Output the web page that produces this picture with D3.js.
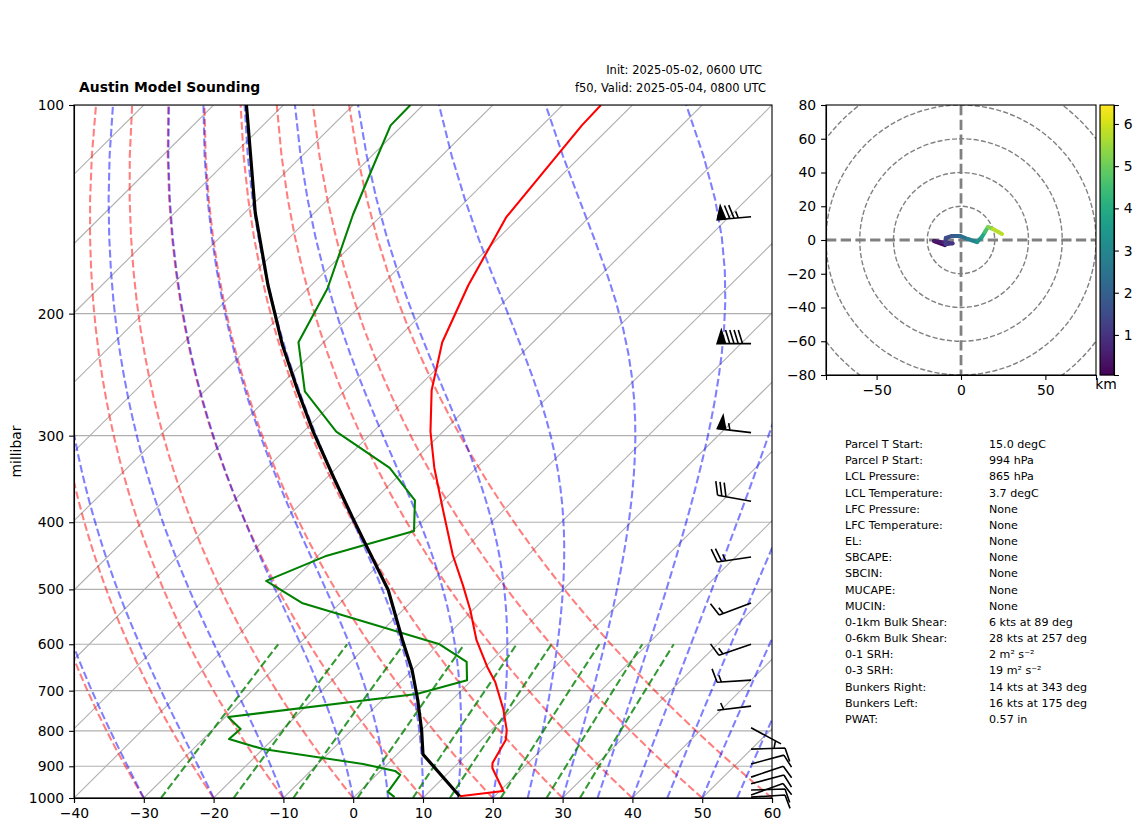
<!DOCTYPE html>
<html>
<head>
<meta charset="utf-8">
<script src="https://cdn.jsdelivr.net/npm/d3@7"></script>
<style>
  body { margin: 0; background: #fff; }
  text { font-family: "DejaVu Sans", sans-serif; fill: #000; }
  .domain { stroke-width: 1.1px; }
</style>
</head>
<body>
<svg id="chart" width="1142" height="832"></svg>
<script>
// sounding, pressure in hPa, temps in degC
const tempP = [994, 977, 905, 890, 825, 798, 746, 680, 647, 592, 535, 493, 446, 384, 334, 296, 258, 220, 182, 145, 107, 100];
const tempT = [15.0, 20.5, 15.6, 14.9, 13.5, 12.2, 8.8, 3.6, 0.3, -5.1, -10.4, -15.0, -20.8, -28.7, -36.0, -41.8, -47.6, -53.0, -57.5, -61.9, -64.3, -64.5];
const dewP = [997, 980, 926, 914, 893, 850, 822, 795, 764, 708, 676, 636, 600, 523, 486, 448, 412, 372, 334, 296, 259, 220, 184, 144, 124, 107, 100];
const dewT = [5.8, 4.1, 3.4, 2.1, -3.5, -20.0, -26.3, -26.1, -29.6, -5.9, -0.7, -3.4, -9.8, -35.5, -43.8, -38.9, -29.8, -34.1, -42.4, -55.3, -65.6, -73.6, -77.2, -84.2, -88.0, -91.7, -91.8];
const parcelP = [994, 865, 798, 722, 654, 592, 501, 436, 393, 345, 296, 258, 222, 182, 143, 105, 100];
const parcelT = [15.0, 3.7, 0.0, -4.9, -10.0, -15.7, -25.0, -34.0, -40.7, -49.0, -58.6, -66.8, -75.5, -86.2, -98.5, -113.0, -115.3];

// wind barbs, knots
const barbP = [145, 221, 297, 373, 449, 523, 600, 676, 737, 792, 850, 893, 933, 954, 974, 990, 997];
const barbU = [74.8, 90, 54.6, 29.5, 24.7, 14.1, 14.2, 15, 4.9, -4.4, -10, -9.7, -9.5, -9.7, -10, -9.4, -10];
const barbV = [6.6, 0, -6.5, -5.3, 3.7, 5.3, 4.9, 0.9, 0.6, 2.35, -0.3, -2.6, -3.2, -2.6, -0.3, -3.4, -0.6];

// hodograph
const hodoU = [-9.5, -16, -10, -5, -9, -9, -5.3, -0.6, 4, 9.5, 12.4, 14.2, 16, 19, 24.3];
const hodoV = [-3, -0.6, -1.5, -2, -2.5, 1.2, 2.4, 2.4, 0.6, -1.2, 1.8, 4.7, 7.7, 6.5, 3.6];
const hodoZ = [0.05, 0.3, 0.6, 0.9, 1.1, 1.3, 1.7, 2.1, 2.6, 3.1, 3.6, 4.2, 5.0, 5.5, 6.0];
const hodoRings = [20, 40, 60, 80, 100];
const hodoXTicks = [-50, 0, 50];
const hodoYTicks = [-80, -60, -40, -20, 0, 20, 40, 60, 80];
const cbarTicks = [1, 2, 3, 4, 5, 6];

const pTicks = [100, 200, 300, 400, 500, 600, 700, 800, 900, 1000];
const tTicks = d3.range(-40, 61, 10);
const isotherms = d3.range(-130, 61, 10);
const dryStart = d3.range(-40, 61, 10);
const moistStart = [-40, -30, -20, -10, 0, 5, 10, 15, 20, 25, 30, 35, 40, 45, 50, 55, 60];
const mixRatios = [0.0004, 0.001, 0.002, 0.004, 0.007, 0.01, 0.016, 0.024, 0.032];

const tableLabels = ["Parcel T Start:", "Parcel P Start:", "LCL Pressure:", "LCL Temperature:", "LFC Pressure:", "LFC Temperature:", "EL:", "SBCAPE:", "SBCIN:", "MUCAPE:", "MUCIN:", "0-1km Bulk Shear:", "0-6km Bulk Shear:", "0-1 SRH:", "0-3 SRH:", "Bunkers Right:", "Bunkers Left:", "PWAT:"];
const tableValues = ["15.0 degC", "994 hPa", "865 hPa", "3.7 degC", "None", "None", "None", "None", "None", "None", "None", "6 kts at 89 deg", "28 kts at 257 deg", "2 m² s⁻²", "19 m² s⁻²", "14 kts at 343 deg", "16 kts at 175 deg", "0.57 in"];

const svg = d3.select("#chart");
const plotL = 74, plotR = 772, plotT = 105, plotB = 798;
const x = d3.scaleLinear().domain([-40, 60]).range([plotL, plotR]);
const y = d3.scaleLog().domain([1000, 100]).range([plotB, plotT]);
const skew = p => (plotB - y(p)) * (plotR - plotL) / (plotB - plotT);   // 45 deg in axes space

const skewLine = d3.line().x(d => x(d[0]) + skew(d[1])).y(d => y(d[1]));

svg.append("clipPath").attr("id", "mainClip").append("rect")
    .attr("x", plotL).attr("y", plotT).attr("width", plotR - plotL).attr("height", plotB - plotT);

const main = svg.append("g").attr("clip-path", "url(#mainClip)");

// gridlines
main.selectAll(".iso").data(isotherms).enter().append("path")
    .attr("d", t => skewLine([[t, 1000], [t, 100]]))
    .attr("fill", "none").attr("stroke", "#b0b0b0").attr("stroke-width", 1.1);
main.selectAll(".pgrid").data(pTicks).enter().append("line")
    .attr("x1", plotL).attr("x2", plotR).attr("y1", d => y(d)).attr("y2", d => y(d))
    .attr("stroke", "#b0b0b0").attr("stroke-width", 1.1);

// background thermodynamic curves
const pLevels = d3.range(0, 50).map(i => 1000 - i * 900 / 49);

const dryCurve = t0 => pLevels.map(p => [(t0 + 273.15) * Math.pow(p / 1000, 0.2857) - 273.15, p]);

function moistSlope(T, p) {
    const es = 6.112 * Math.exp(17.67 * (T - 273.15) / (T - 29.65));
    const rs = 0.622 * es / (p - es);
    return (287 * T + 2.501e6 * rs) / (1005 + 2.501e6 * 2.501e6 * rs * 0.622 / (287 * T * T)) / p;
}
function moistCurve(t0) {
    let T = t0 + 273.15;
    const out = [[t0, 1000]];
    for (let i = 1; i < pLevels.length; i++) {
        const steps = 10, dp = (pLevels[i] - pLevels[i - 1]) / steps;
        let p = pLevels[i - 1];
        for (let s = 0; s < steps; s++) {
            const k1 = moistSlope(T, p), k2 = moistSlope(T + dp * k1 / 2, p + dp / 2);
            const k3 = moistSlope(T + dp * k2 / 2, p + dp / 2), k4 = moistSlope(T + dp * k3, p + dp);
            T += dp * (k1 + 2 * k2 + 2 * k3 + k4) / 6;
            p += dp;
        }
        out.push([T - 273.15, pLevels[i]]);
    }
    return out;
}
function mixCurve(w) {
    return d3.range(0, 21).map(i => {
        const p = 1000 - i * 20;
        const val = Math.log(p * w / (0.622 + w) / 6.112);
        return [243.5 * val / (17.67 - val), p];
    });
}

main.selectAll(".dry").data(dryStart).enter().append("path")
    .attr("d", t => skewLine(dryCurve(t)))
    .attr("fill", "none").attr("stroke", "red").attr("stroke-opacity", 0.5)
    .attr("stroke-width", 2.08).attr("stroke-dasharray", "7.7,3.3");
main.selectAll(".moist").data(moistStart).enter().append("path")
    .attr("d", t => skewLine(moistCurve(t)))
    .attr("fill", "none").attr("stroke", "blue").attr("stroke-opacity", 0.5)
    .attr("stroke-width", 2.08).attr("stroke-dasharray", "7.7,3.3");
main.selectAll(".mix").data(mixRatios).enter().append("path")
    .attr("d", w => skewLine(mixCurve(w)))
    .attr("fill", "none").attr("stroke", "green").attr("stroke-opacity", 0.8)
    .attr("stroke-width", 2.08).attr("stroke-dasharray", "7.7,3.3");

// sounding traces
function trace(ts, ps, color, w) {
    main.append("path").datum(ts.map((t, i) => [t, ps[i]]))
        .attr("d", skewLine).attr("fill", "none")
        .attr("stroke", color).attr("stroke-width", w).attr("stroke-linejoin", "round");
}
trace(tempT, tempP, "red", 2.08);
trace(dewT, dewP, "green", 2.08);
trace(parcelT, parcelP, "black", 3.2);

// frame + axes
svg.append("rect").attr("x", plotL).attr("y", plotT).attr("width", plotR - plotL).attr("height", plotB - plotT)
    .attr("fill", "none").attr("stroke", "#000").attr("stroke-width", 1.1);

function styleAxis(g) {
    g.selectAll("text").style("font-size", "13.9px");
    g.selectAll("line").attr("stroke-width", 1.1);
    g.select(".domain").attr("stroke-width", 1.1);
}
svg.append("g").attr("transform", `translate(0,${plotB})`)
    .call(d3.axisBottom(x).tickValues(tTicks).tickSize(4.9).tickPadding(4.9).tickFormat(d3.format("d")))
    .call(styleAxis);
svg.append("g").attr("transform", `translate(${plotL},0)`)
    .call(d3.axisLeft(y).tickValues(pTicks).tickSize(4.9).tickPadding(4.9).tickFormat(d3.format("d")))
    .call(styleAxis);

svg.append("text").attr("transform", `translate(21,${(plotT + plotB) / 2}) rotate(-90)`)
    .attr("text-anchor", "middle").style("font-size", "13.9px").text("millibar");

svg.append("text").attr("x", 79).attr("y", 92).style("font-size", "13.9px").style("font-weight", "bold")
    .text("Austin Model Sounding");
svg.append("text").attr("x", 762).attr("y", 74).attr("text-anchor", "end").style("font-size", "11.5px")
    .text("Init: 2025-05-02, 0600 UTC");
svg.append("text").attr("x", 766).attr("y", 92).attr("text-anchor", "end").style("font-size", "11.5px")
    .text("f50, Valid: 2025-05-04, 0800 UTC");

// wind barbs, same layout as matplotlib's barbs with pivot at the tip
const barbX = x(57), barbLen = 34;
function barbPath(u, v) {
    const spacing = barbLen * 0.125, h = barbLen * 0.4, w = barbLen * 0.25;
    let spd = Math.round(Math.hypot(u, v) / 5) * 5;
    const flags = Math.floor(spd / 50); spd -= flags * 50;
    const full = Math.floor(spd / 10); spd -= full * 10;
    const half = spd >= 5;
    let off = barbLen;
    let d = `M0,0L0,${-off}`;
    for (let i = 0; i < flags; i++) {
        d += `M0,${-off}L${h},${-(off - w / 2)}L0,${-(off - w)}Z`;
        off -= w + spacing;
    }
    for (let i = 0; i < full; i++) {
        d += `M0,${-off}L${h},${-(off + w / 2)}`;
        off -= spacing;
    }
    if (half) {
        if (flags === 0 && full === 0) off -= 1.5 * spacing;
        d += `M0,${-off}L${h / 2},${-(off + w / 4)}`;
    }
    return d;
}
svg.append("g").selectAll("path").data(barbP).enter().append("path")
    .attr("d", (p, i) => barbPath(barbU[i], barbV[i]))
    .attr("transform", (p, i) => {
        // shaft points to where the wind comes from
        const ang = Math.atan2(-barbU[i], -barbV[i]) * 180 / Math.PI;
        return `translate(${barbX},${y(p)}) rotate(${ang})`;
    })
    .attr("fill", "#000").attr("stroke", "#000").attr("stroke-width", 1.6);

// hodograph
const hx = d3.scaleLinear().domain([-80, 80]).range([826, 1096]);
const hy = d3.scaleLinear().domain([-80, 80]).range([375, 105]);
svg.append("clipPath").attr("id", "hodoClip").append("rect")
    .attr("x", 826).attr("y", 105).attr("width", 270).attr("height", 270);
const hodo = svg.append("g").attr("clip-path", "url(#hodoClip)");
hodo.selectAll("circle").data(hodoRings).enter().append("circle")
    .attr("cx", hx(0)).attr("cy", hy(0)).attr("r", d => hx(d) - hx(0))
    .attr("fill", "none").attr("stroke", "#808080").attr("stroke-width", 1.39).attr("stroke-dasharray", "5.1,2.2");
hodo.append("line").attr("x1", 826).attr("x2", 1096).attr("y1", hy(0)).attr("y2", hy(0))
    .attr("stroke", "#808080").attr("stroke-width", 2.78).attr("stroke-dasharray", "10.3,4.4");
hodo.append("line").attr("y1", 105).attr("y2", 375).attr("x1", hx(0)).attr("x2", hx(0))
    .attr("stroke", "#808080").attr("stroke-width", 2.78).attr("stroke-dasharray", "10.3,4.4");

const zColor = d3.scaleSequential(d3.interpolateViridis).domain([0.05, 6.45]);
hodo.selectAll(".seg").data(d3.pairs(d3.range(hodoU.length))).enter().append("line")
    .attr("x1", d => hx(hodoU[d[0]])).attr("y1", d => hy(hodoV[d[0]]))
    .attr("x2", d => hx(hodoU[d[1]])).attr("y2", d => hy(hodoV[d[1]]))
    .attr("stroke", d => zColor((hodoZ[d[0]] + hodoZ[d[1]]) / 2))
    .attr("stroke-width", 4).attr("stroke-linecap", "round");

svg.append("rect").attr("x", 826).attr("y", 105).attr("width", 270).attr("height", 270)
    .attr("fill", "none").attr("stroke", "#000").attr("stroke-width", 1.1);
svg.append("g").attr("transform", "translate(0,375)")
    .call(d3.axisBottom(hx).tickValues(hodoXTicks).tickSize(4.9).tickPadding(4.9).tickFormat(d3.format("d")))
    .call(styleAxis);
svg.append("g").attr("transform", "translate(826,0)")
    .call(d3.axisLeft(hy).tickValues(hodoYTicks).tickSize(4.9).tickPadding(4.9).tickFormat(d3.format("d")))
    .call(styleAxis);

// colorbar
const cb = d3.scaleLinear().domain([0.05, 6.45]).range([375, 105]);
svg.append("g").selectAll("rect").data(d3.range(105, 375)).enter().append("rect")
    .attr("x", 1100).attr("y", d => d).attr("width", 14).attr("height", 1.3)
    .attr("fill", d => zColor(cb.invert(d + 0.5)));
svg.append("rect").attr("x", 1100).attr("y", 105).attr("width", 14).attr("height", 270)
    .attr("fill", "none").attr("stroke", "#000").attr("stroke-width", 1.1);
svg.append("g").attr("transform", "translate(1114,0)")
    .call(d3.axisRight(cb).tickValues(cbarTicks).tickSize(4.9).tickPadding(4.9).tickFormat(d3.format("d")))
    .call(styleAxis);
svg.append("text").attr("x", 1106).attr("y", 389).attr("text-anchor", "middle").style("font-size", "13.9px").text("km");

// parcel table
const rowY = d3.scaleLinear().domain([0, 17]).range([448, 723]);
svg.append("g").selectAll("text").data(tableLabels).enter().append("text")
    .attr("x", 845).attr("y", (d, i) => rowY(i)).style("font-size", "11.1px").text(d => d);
svg.append("g").selectAll("text").data(tableValues).enter().append("text")
    .attr("x", 989).attr("y", (d, i) => rowY(i)).style("font-size", "11.1px").text(d => d);
</script>
</body>
</html>
